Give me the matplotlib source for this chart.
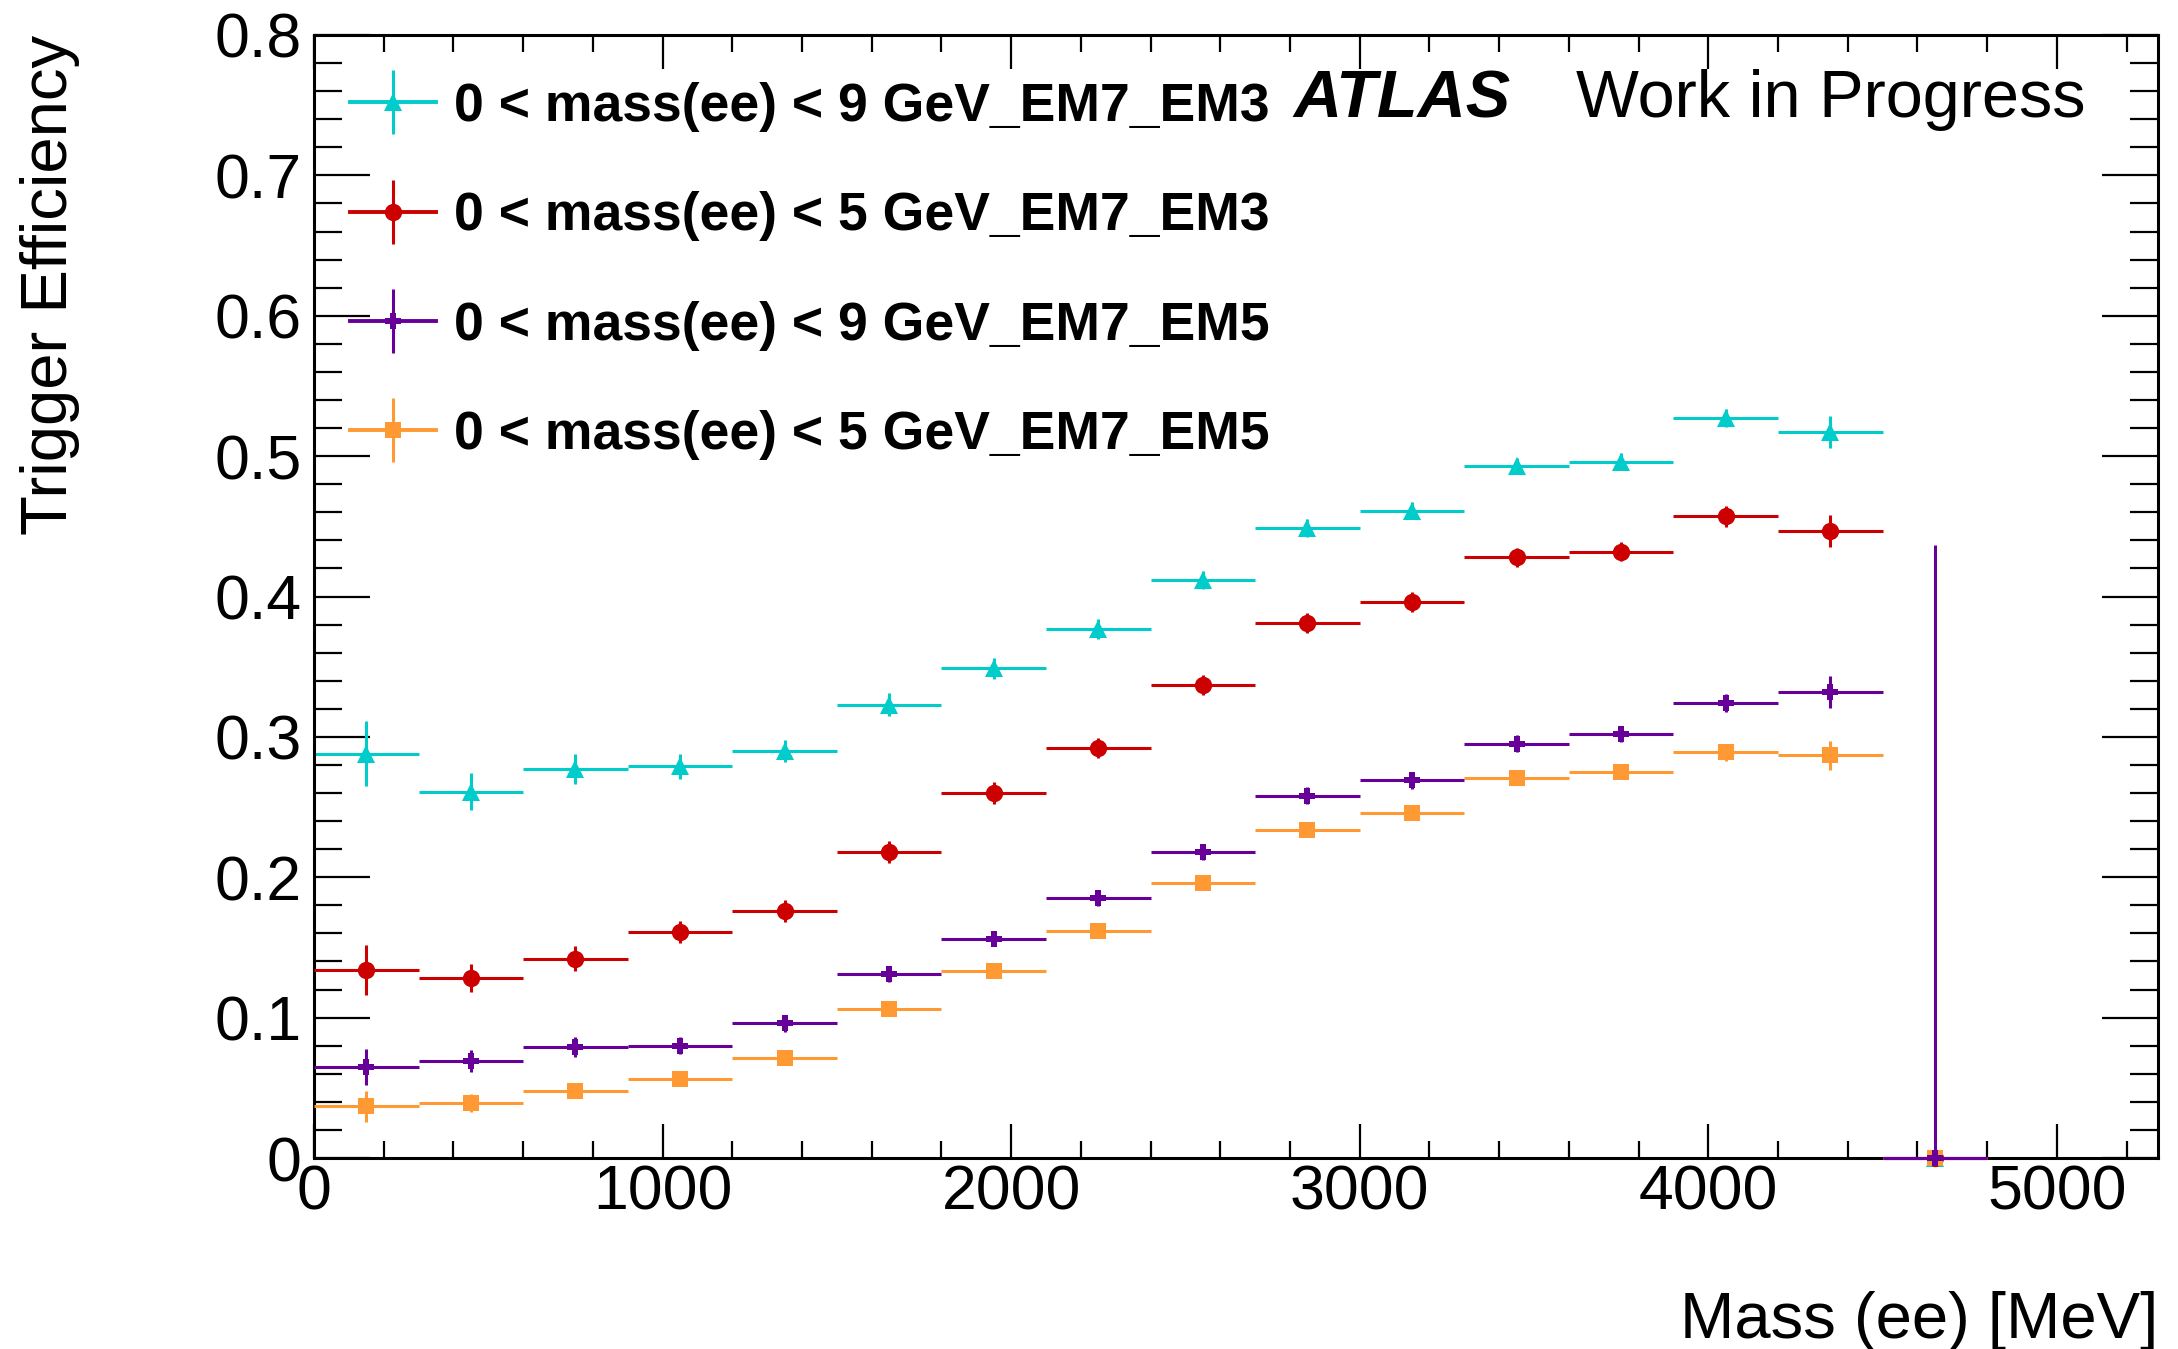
import matplotlib
matplotlib.use("Agg")
import numpy as np
from matplotlib import pyplot as plt
from matplotlib.container import ErrorbarContainer
from matplotlib.legend_handler import HandlerErrorbar

plt.rcParams["font.family"] = ["Liberation Sans", "DejaVu Sans"]

# bins of 300 MeV, centres
mass_centers = [150, 450, 750, 1050, 1350, 1650, 1950, 2250, 2550,
                2850, 3150, 3450, 3750, 4050, 4350, 4650]
bin_half = 150

eff_m9_em3 = [0.288, 0.261, 0.277, 0.279, 0.290, 0.323, 0.349, 0.377,
              0.412, 0.449, 0.461, 0.493, 0.496, 0.527, 0.517, 0.0]
err_m9_em3 = [0.023, 0.013, 0.0105, 0.009, 0.008, 0.008, 0.0075, 0.007,
              0.0065, 0.0065, 0.006, 0.006, 0.006, 0.0066, 0.0114, 0.0]

eff_m5_em3 = [0.134, 0.128, 0.142, 0.161, 0.176, 0.218, 0.260, 0.292,
              0.337, 0.381, 0.396, 0.428, 0.432, 0.457, 0.447, 0.0]
err_m5_em3 = [0.018, 0.010, 0.009, 0.008, 0.0077, 0.0077, 0.0077, 0.007,
              0.007, 0.007, 0.007, 0.0068, 0.0068, 0.0073, 0.0114, 0.0]

eff_m9_em5 = [0.065, 0.069, 0.079, 0.080, 0.096, 0.131, 0.156, 0.185,
              0.218, 0.258, 0.269, 0.295, 0.302, 0.324, 0.332, 0.0]
err_m9_em5 = [0.013, 0.008, 0.007, 0.006, 0.006, 0.0055, 0.0053, 0.0057,
              0.006, 0.006, 0.006, 0.006, 0.006, 0.0064, 0.0113, 0.0]
err_m9_em5_up = err_m9_em5[:-1] + [0.437]

eff_m5_em5 = [0.037, 0.039, 0.048, 0.056, 0.071, 0.106, 0.133, 0.162,
              0.196, 0.234, 0.246, 0.271, 0.275, 0.289, 0.287, 0.0]
err_m5_em5 = [0.011, 0.0065, 0.005, 0.005, 0.005, 0.005, 0.005, 0.005,
              0.005, 0.005, 0.005, 0.005, 0.005, 0.006, 0.0104, 0.0]

labels = [
    "0 < mass(ee) < 9 GeV_EM7_EM3",
    "0 < mass(ee) < 5 GeV_EM7_EM3",
    "0 < mass(ee) < 9 GeV_EM7_EM5",
    "0 < mass(ee) < 5 GeV_EM7_EM5",
]

series = [
    (eff_m9_em3, err_m9_em3, err_m9_em3, "#00CCCC", "^", 12.5, 2),
    (eff_m5_em3, err_m5_em3, err_m5_em3, "#CC0000", "o", 12.5, 3),
    (eff_m9_em5, err_m9_em5, err_m9_em5_up, "#660099", "P", 11, 5),
    (eff_m5_em5, err_m5_em5, err_m5_em5, "#FF9933", "s", 11.5, 4),
]

fig = plt.figure(figsize=(21.78, 13.49), dpi=100)
ax = fig.add_axes([314 / 2178, 1 - 1158 / 1349, 1844 / 2178, (1158 - 35) / 1349])

handles = []
for (eff, lo, hi, color, marker, ms, z), lab in zip(series, labels):
    eb = ax.errorbar(mass_centers, eff, xerr=bin_half, yerr=[lo, hi],
                     fmt=marker, color=color, ms=ms, mew=0, elinewidth=2.2,
                     capsize=0, zorder=z)
    for art in eb.lines[2]:
        art.set_clip_on(False)
    eb.lines[0].set_clip_on(False)
    # legend proxy with caps and a line through the marker
    proxy = ax.errorbar([], [], yerr=[], fmt=marker + "-", color=color,
                        ms=ms, mew=0, lw=2.8, elinewidth=2.2, capsize=4.3,
                        capthick=2.2)
    handles.append(proxy)

ax.set_xlim(0, 5290)
ax.set_ylim(0, 0.8)

ax.set_xticks([0, 1000, 2000, 3000, 4000, 5000])
ax.set_xticks(np.arange(0, 5290, 200), minor=True)
ax.set_yticks([0, 0.1, 0.2, 0.3, 0.4, 0.5, 0.6, 0.7, 0.8])
ax.set_yticks(np.arange(0, 0.801, 0.02), minor=True)
ax.set_yticklabels(["0", "0.1", "0.2", "0.3", "0.4", "0.5", "0.6", "0.7", "0.8"])

ax.tick_params(axis="both", which="both", direction="in", top=True, right=True,
               width=1.6, labelsize=45)
ax.tick_params(axis="x", which="major", length=24.5, pad=4)
ax.tick_params(axis="x", which="minor", length=12.5)
ax.tick_params(axis="y", which="major", length=40, pad=9)
ax.tick_params(axis="y", which="minor", length=20)
for sp in ax.spines.values():
    sp.set_linewidth(2.2)

fig.text(50 / 2178, 1 - 35 / 1349, "Trigger Efficiency", rotation=90,
         ha="center", va="top", fontsize=47)
fig.text(2158 / 2178, 1 - 1338 / 1349, "Mass (ee) [MeV]", ha="right",
         va="baseline", fontsize=47)

fig.text(1293 / 2178, 1 - 117 / 1349, "ATLAS", fontsize=48,
         fontweight="bold", fontstyle="italic", va="baseline")
fig.text(1576 / 2178, 1 - 117 / 1349, "Work in Progress", fontsize=48,
         va="baseline")

ax.legend(handles, labels, loc="upper left",
          bbox_to_anchor=(350 / 2178, 1 - 82 / 1349),
          bbox_transform=fig.transFigure, frameon=False,
          prop={"size": 38.5, "weight": "bold"}, borderpad=0, borderaxespad=0,
          handlelength=1.61, handletextpad=0.34, labelspacing=1.11,
          handler_map={ErrorbarContainer: HandlerErrorbar(xerr_size=0.6)})

fig.savefig("out.png", dpi=100)
